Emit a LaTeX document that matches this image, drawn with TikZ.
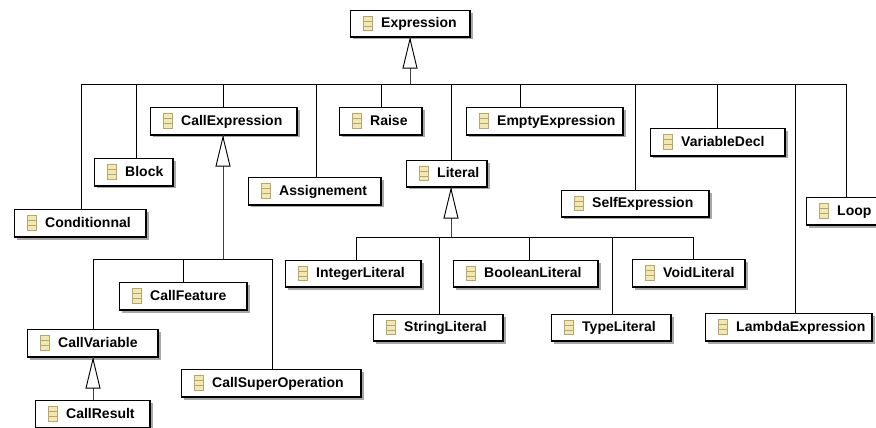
\documentclass[tikz,border=0pt]{standalone}
\usepackage{fontspec}
\setmainfont{Liberation Sans}
\usetikzlibrary{calc}
\definecolor{icb}{HTML}{B8A670}
\definecolor{icf}{HTML}{F2E8B4}
\definecolor{shd}{HTML}{A8A8A8}
\tikzset{
  x=0.75pt,y=-0.75pt,
  conn/.style={line width=0.6pt,black},
  stem/.style={line width=0.7pt,black!75},
  tri/.style={line width=0.7pt,black,fill=white},
  clsbox/.style={draw=black,line width=0.8pt,fill=white,inner sep=0pt,anchor=north west},
  clstext/.style={font=\bfseries\fontsize{10.5pt}{12pt}\selectfont,inner sep=0pt,anchor=west,text height=8pt,text depth=2pt},
  icon/.style={draw=icb,fill=icf,line width=0.8pt},
}
% name, text, x0, y0, x1, y1
\newcommand{\cls}[6]{%
  \fill[shd] (#3+3,#4+3) rectangle (#5+3.5,#6+3.5);
  \pgfmathsetmacro{\ww}{(#5-#3)*0.75}\pgfmathsetmacro{\hh}{(#6-#4)*0.75}%
  \node[clsbox,minimum width=\ww pt,minimum height=\hh pt] (#1) at (#3,#4) {};
  \draw[black,line width=1.1pt] (#1.north east) -- (#1.south east) -- (#1.south west);
  \node[clstext] (#1t) at ([xshift=23.2pt]#1.west) {#2};
  \draw[icon] ([xshift=10pt,yshift=-5.4pt]#1.west) rectangle ([xshift=17.2pt,yshift=5.4pt]#1.west);
  \draw[icb,line width=0.6pt] ([xshift=10pt,yshift=-1.8pt]#1.west) -- ([xshift=17.2pt,yshift=-1.8pt]#1.west)
     ([xshift=10pt,yshift=1.8pt]#1.west) -- ([xshift=17.2pt,yshift=1.8pt]#1.west);
}
% drop from bus: bus coordinate, node, x px offset from node's west
\newcommand{\drop}[3]{\draw[conn] ([xshift=#3*0.75pt]#2.north west) -- ([xshift=#3*0.75pt]#2.north west |- #1);}
% inheritance arrow: parent, junction
\newcommand{\inh}[2]{%
  \draw[stem] (#2) -- (#1.south -| #2);
  \draw[tri] ($(#1.south -| #2)+(0,2)$) -- ++(-7,29) -- ++(14,0) -- cycle;
}
\begin{document}
\begin{tikzpicture}
\useasboundingbox (0,0) rectangle (876,428);
\cls{Expression}{Expression}{350}{10}{469}{36}
\cls{Block}{Block}{94}{158}{172}{185}
\cls{Conditionnal}{Conditionnal}{14}{209}{145}{236}
\cls{CallExpression}{CallExpression}{150}{107}{296}{134}
\cls{Assignement}{Assignement}{248}{177}{380}{204}
\cls{Raise}{Raise}{339}{107}{421}{134}
\cls{Literal}{Literal}{406}{160}{486}{186}
\cls{EmptyExpression}{EmptyExpression}{466}{107}{622}{134}
\cls{SelfExpression}{SelfExpression}{561}{190}{708}{216}
\cls{VariableDecl}{VariableDecl}{650}{128}{784}{155}
\cls{Loop}{Loop}{806}{197}{880}{224}
\cls{IntegerLiteral}{IntegerLiteral}{285}{260}{420}{286}
\cls{BooleanLiteral}{BooleanLiteral}{453}{260}{597}{286}
\cls{VoidLiteral}{VoidLiteral}{632}{259}{744}{286}
\cls{StringLiteral}{StringLiteral}{373}{314}{502}{340}
\cls{TypeLiteral}{TypeLiteral}{551}{314}{670}{340}
\cls{LambdaExpression}{LambdaExpression}{705}{313}{871}{340}
\cls{CallFeature}{CallFeature}{119}{282}{246}{309}
\cls{CallSuperOperation}{CallSuperOperation}{181}{369}{360}{396}
\cls{CallVariable}{CallVariable}{27}{329}{157}{356}
\cls{CallResult}{CallResult}{35}{400}{149}{427}
% main hierarchy
\coordinate (busA) at (410,84);
\coordinate (busAl) at (81,84);
\coordinate (busAr) at (846,84);
\draw[conn] (busAl) -- (busAr);
\drop{busA}{Conditionnal}{67}
\drop{busA}{Block}{42}
\drop{busA}{CallExpression}{73}
\drop{busA}{Assignement}{68}
\drop{busA}{Raise}{42}
\drop{busA}{Literal}{45}
\drop{busA}{EmptyExpression}{54}
\drop{busA}{SelfExpression}{74}
\drop{busA}{VariableDecl}{67}
\drop{busA}{LambdaExpression}{90}
\drop{busA}{Loop}{40}
\inh{Expression}{busA}
% literals
\coordinate (busL) at (451,237);
\coordinate (busLl) at (356,237);
\coordinate (busLr) at (693,237);
\draw[conn] (busLl) -- (busLr);
\drop{busL}{IntegerLiteral}{71}
\drop{busL}{StringLiteral}{66}
\drop{busL}{BooleanLiteral}{76}
\drop{busL}{TypeLiteral}{61}
\drop{busL}{VoidLiteral}{61}
\inh{Literal}{busL}
% calls
\coordinate (busC) at (223,259);
\coordinate (busCl) at (93,259);
\coordinate (busCr) at (272,259);
\draw[conn] (busCl) -- (busCr);
\drop{busC}{CallVariable}{66}
\drop{busC}{CallFeature}{64}
\drop{busC}{CallSuperOperation}{91}
\inh{CallExpression}{busC}
% call variable / result
\coordinate (jR) at (93,400);
\inh{CallVariable}{jR}
\end{tikzpicture}
\end{document}
